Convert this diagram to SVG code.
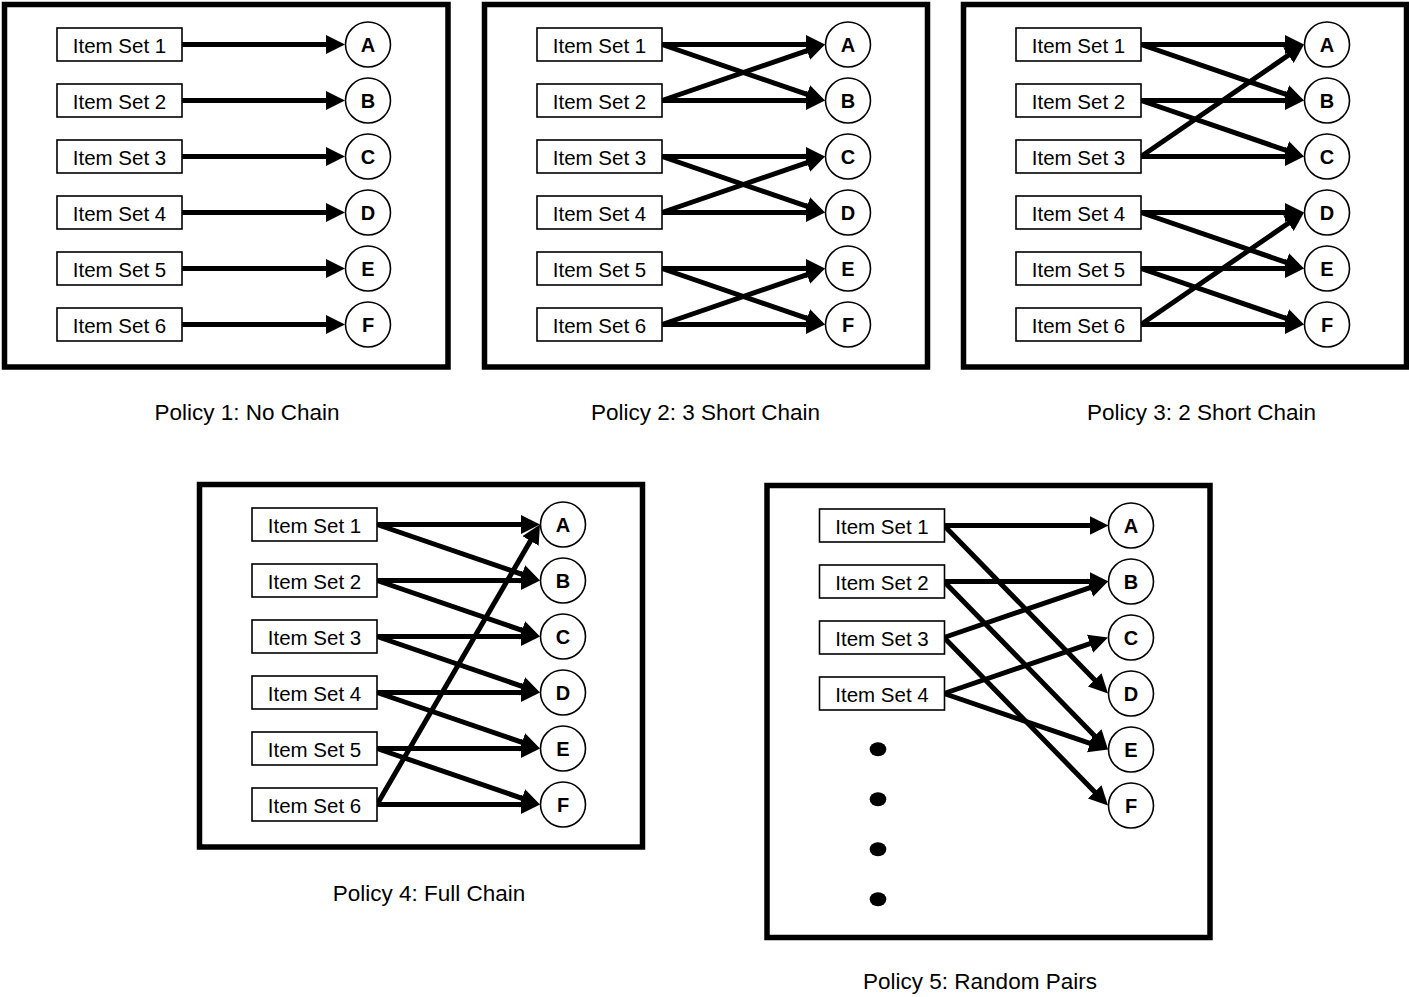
<svg xmlns="http://www.w3.org/2000/svg" width="1409" height="997" viewBox="0 0 1409 997">
<defs>
<style>
.frame{fill:none;stroke:#000;stroke-width:5.5}
.box{fill:#fff;stroke:#000;stroke-width:1.6}
.circ{fill:#fff;stroke:#000;stroke-width:1.6}
.lbl{font-family:"Liberation Sans",Arial,sans-serif;font-size:20.5px;fill:#000;text-anchor:middle}
.cl{font-family:"Liberation Sans",Arial,sans-serif;font-size:20px;font-weight:bold;fill:#000;text-anchor:middle}
.cap{font-family:"Liberation Sans",Arial,sans-serif;font-size:22.5px;fill:#000;text-anchor:middle}
.arr{fill:none;stroke:#000;stroke-width:5;marker-end:url(#ah)}
.dot{fill:#000}
</style>
<marker id="ah" markerUnits="userSpaceOnUse" markerWidth="20" markerHeight="20" refX="7" refY="9.5" orient="auto" viewBox="0 0 20 20">
<path d="M0,0 L19,9.5 L0,19 Z" fill="#000"/>
</marker>
</defs>
<rect width="1409" height="997" fill="#fff"/>

<!-- Policy 1 -->
<g id="policy1">
<rect class="frame" x="4.5" y="4.5" width="443.5" height="362.5"/>
<g id="p1-connectors">
<path class="arr" d="M182,44.5 L333,44.5"/>
<path class="arr" d="M182,100.5 L333,100.5"/>
<path class="arr" d="M182,156.5 L333,156.5"/>
<path class="arr" d="M182,212.5 L333,212.5"/>
<path class="arr" d="M182,268.5 L333,268.5"/>
<path class="arr" d="M182,324.5 L333,324.5"/>
</g>
<g id="p1-set1"><rect class="box" x="57" y="28" width="125" height="33"/><text class="lbl" x="119.5" y="52.5">Item Set 1</text></g>
<g id="p1-set2"><rect class="box" x="57" y="84" width="125" height="33"/><text class="lbl" x="119.5" y="108.5">Item Set 2</text></g>
<g id="p1-set3"><rect class="box" x="57" y="140" width="125" height="33"/><text class="lbl" x="119.5" y="164.5">Item Set 3</text></g>
<g id="p1-set4"><rect class="box" x="57" y="196" width="125" height="33"/><text class="lbl" x="119.5" y="220.5">Item Set 4</text></g>
<g id="p1-set5"><rect class="box" x="57" y="252" width="125" height="33"/><text class="lbl" x="119.5" y="276.5">Item Set 5</text></g>
<g id="p1-set6"><rect class="box" x="57" y="308" width="125" height="33"/><text class="lbl" x="119.5" y="332.5">Item Set 6</text></g>
<g id="p1-A"><circle class="circ" cx="368" cy="44.5" r="22.5"/><text class="cl" x="368" y="52">A</text></g>
<g id="p1-B"><circle class="circ" cx="368" cy="100.5" r="22.5"/><text class="cl" x="368" y="108">B</text></g>
<g id="p1-C"><circle class="circ" cx="368" cy="156.5" r="22.5"/><text class="cl" x="368" y="164">C</text></g>
<g id="p1-D"><circle class="circ" cx="368" cy="212.5" r="22.5"/><text class="cl" x="368" y="220">D</text></g>
<g id="p1-E"><circle class="circ" cx="368" cy="268.5" r="22.5"/><text class="cl" x="368" y="276">E</text></g>
<g id="p1-F"><circle class="circ" cx="368" cy="324.5" r="22.5"/><text class="cl" x="368" y="332">F</text></g>
</g>
<text class="cap" x="247" y="420">Policy 1: No Chain</text>

<!-- Policy 2 -->
<g id="policy2" transform="translate(480,0)">
<rect class="frame" x="4.5" y="4.5" width="443" height="362.5"/>
<g id="p2-connectors">
<path class="arr" d="M182,44.5 L333,44.5"/>
<path class="arr" d="M182,100.5 L333,100.5"/>
<path class="arr" d="M182,156.5 L333,156.5"/>
<path class="arr" d="M182,212.5 L333,212.5"/>
<path class="arr" d="M182,268.5 L333,268.5"/>
<path class="arr" d="M182,324.5 L333,324.5"/>
<path class="arr" d="M182,44.5 L333.65,96.6"/>
<path class="arr" d="M182,100.5 L333.65,48.4"/>
<path class="arr" d="M182,156.5 L333.65,208.6"/>
<path class="arr" d="M182,212.5 L333.65,160.4"/>
<path class="arr" d="M182,268.5 L333.65,320.6"/>
<path class="arr" d="M182,324.5 L333.65,272.4"/>
</g>
<g id="p2-set1"><rect class="box" x="57" y="28" width="125" height="33"/><text class="lbl" x="119.5" y="52.5">Item Set 1</text></g>
<g id="p2-set2"><rect class="box" x="57" y="84" width="125" height="33"/><text class="lbl" x="119.5" y="108.5">Item Set 2</text></g>
<g id="p2-set3"><rect class="box" x="57" y="140" width="125" height="33"/><text class="lbl" x="119.5" y="164.5">Item Set 3</text></g>
<g id="p2-set4"><rect class="box" x="57" y="196" width="125" height="33"/><text class="lbl" x="119.5" y="220.5">Item Set 4</text></g>
<g id="p2-set5"><rect class="box" x="57" y="252" width="125" height="33"/><text class="lbl" x="119.5" y="276.5">Item Set 5</text></g>
<g id="p2-set6"><rect class="box" x="57" y="308" width="125" height="33"/><text class="lbl" x="119.5" y="332.5">Item Set 6</text></g>
<g id="p2-A"><circle class="circ" cx="368" cy="44.5" r="22.5"/><text class="cl" x="368" y="52">A</text></g>
<g id="p2-B"><circle class="circ" cx="368" cy="100.5" r="22.5"/><text class="cl" x="368" y="108">B</text></g>
<g id="p2-C"><circle class="circ" cx="368" cy="156.5" r="22.5"/><text class="cl" x="368" y="164">C</text></g>
<g id="p2-D"><circle class="circ" cx="368" cy="212.5" r="22.5"/><text class="cl" x="368" y="220">D</text></g>
<g id="p2-E"><circle class="circ" cx="368" cy="268.5" r="22.5"/><text class="cl" x="368" y="276">E</text></g>
<g id="p2-F"><circle class="circ" cx="368" cy="324.5" r="22.5"/><text class="cl" x="368" y="332">F</text></g>
</g>
<text class="cap" x="705.5" y="420">Policy 2: 3 Short Chain</text>

<!-- Policy 3 -->
<g id="policy3" transform="translate(959,0)">
<rect class="frame" x="4.5" y="4.5" width="443" height="362.5"/>
<g id="p3-connectors">
<path class="arr" d="M182,44.5 L333,44.5"/>
<path class="arr" d="M182,100.5 L333,100.5"/>
<path class="arr" d="M182,156.5 L333,156.5"/>
<path class="arr" d="M182,212.5 L333,212.5"/>
<path class="arr" d="M182,268.5 L333,268.5"/>
<path class="arr" d="M182,324.5 L333,324.5"/>
<path class="arr" d="M182,44.5 L333.65,96.6"/>
<path class="arr" d="M182,100.5 L333.65,152.6"/>
<path class="arr" d="M182,156.5 L335.11,51.3"/>
<path class="arr" d="M182,212.5 L333.65,264.6"/>
<path class="arr" d="M182,268.5 L333.65,320.6"/>
<path class="arr" d="M182,324.5 L335.11,219.3"/>
</g>
<g id="p3-set1"><rect class="box" x="57" y="28" width="125" height="33"/><text class="lbl" x="119.5" y="52.5">Item Set 1</text></g>
<g id="p3-set2"><rect class="box" x="57" y="84" width="125" height="33"/><text class="lbl" x="119.5" y="108.5">Item Set 2</text></g>
<g id="p3-set3"><rect class="box" x="57" y="140" width="125" height="33"/><text class="lbl" x="119.5" y="164.5">Item Set 3</text></g>
<g id="p3-set4"><rect class="box" x="57" y="196" width="125" height="33"/><text class="lbl" x="119.5" y="220.5">Item Set 4</text></g>
<g id="p3-set5"><rect class="box" x="57" y="252" width="125" height="33"/><text class="lbl" x="119.5" y="276.5">Item Set 5</text></g>
<g id="p3-set6"><rect class="box" x="57" y="308" width="125" height="33"/><text class="lbl" x="119.5" y="332.5">Item Set 6</text></g>
<g id="p3-A"><circle class="circ" cx="368" cy="44.5" r="22.5"/><text class="cl" x="368" y="52">A</text></g>
<g id="p3-B"><circle class="circ" cx="368" cy="100.5" r="22.5"/><text class="cl" x="368" y="108">B</text></g>
<g id="p3-C"><circle class="circ" cx="368" cy="156.5" r="22.5"/><text class="cl" x="368" y="164">C</text></g>
<g id="p3-D"><circle class="circ" cx="368" cy="212.5" r="22.5"/><text class="cl" x="368" y="220">D</text></g>
<g id="p3-E"><circle class="circ" cx="368" cy="268.5" r="22.5"/><text class="cl" x="368" y="276">E</text></g>
<g id="p3-F"><circle class="circ" cx="368" cy="324.5" r="22.5"/><text class="cl" x="368" y="332">F</text></g>
</g>
<text class="cap" x="1201.5" y="420">Policy 3: 2 Short Chain</text>

<!-- Policy 4 -->
<g id="policy4" transform="translate(195,480)">
<rect class="frame" x="4.5" y="4.5" width="443" height="362.5"/>
<g id="p4-connectors">
<path class="arr" d="M182,44.5 L333,44.5"/>
<path class="arr" d="M182,100.5 L333,100.5"/>
<path class="arr" d="M182,156.5 L333,156.5"/>
<path class="arr" d="M182,212.5 L333,212.5"/>
<path class="arr" d="M182,268.5 L333,268.5"/>
<path class="arr" d="M182,324.5 L333,324.5"/>
<path class="arr" d="M182,44.5 L333.65,96.6"/>
<path class="arr" d="M182,100.5 L333.65,152.6"/>
<path class="arr" d="M182,156.5 L333.65,208.6"/>
<path class="arr" d="M182,212.5 L333.65,264.6"/>
<path class="arr" d="M182,268.5 L333.65,320.6"/>
<path class="arr" d="M182,324.5 L338.96,54.87"/>
</g>
<g id="p4-set1"><rect class="box" x="57" y="28" width="125" height="33"/><text class="lbl" x="119.5" y="52.5">Item Set 1</text></g>
<g id="p4-set2"><rect class="box" x="57" y="84" width="125" height="33"/><text class="lbl" x="119.5" y="108.5">Item Set 2</text></g>
<g id="p4-set3"><rect class="box" x="57" y="140" width="125" height="33"/><text class="lbl" x="119.5" y="164.5">Item Set 3</text></g>
<g id="p4-set4"><rect class="box" x="57" y="196" width="125" height="33"/><text class="lbl" x="119.5" y="220.5">Item Set 4</text></g>
<g id="p4-set5"><rect class="box" x="57" y="252" width="125" height="33"/><text class="lbl" x="119.5" y="276.5">Item Set 5</text></g>
<g id="p4-set6"><rect class="box" x="57" y="308" width="125" height="33"/><text class="lbl" x="119.5" y="332.5">Item Set 6</text></g>
<g id="p4-A"><circle class="circ" cx="368" cy="44.5" r="22.5"/><text class="cl" x="368" y="52">A</text></g>
<g id="p4-B"><circle class="circ" cx="368" cy="100.5" r="22.5"/><text class="cl" x="368" y="108">B</text></g>
<g id="p4-C"><circle class="circ" cx="368" cy="156.5" r="22.5"/><text class="cl" x="368" y="164">C</text></g>
<g id="p4-D"><circle class="circ" cx="368" cy="212.5" r="22.5"/><text class="cl" x="368" y="220">D</text></g>
<g id="p4-E"><circle class="circ" cx="368" cy="268.5" r="22.5"/><text class="cl" x="368" y="276">E</text></g>
<g id="p4-F"><circle class="circ" cx="368" cy="324.5" r="22.5"/><text class="cl" x="368" y="332">F</text></g>
</g>
<text class="cap" x="429" y="901">Policy 4: Full Chain</text>

<!-- Policy 5 -->
<g id="policy5">
<rect class="frame" x="767" y="485.5" width="443" height="452"/>
<g id="p5-connectors">
<path class="arr" d="M944,525.5 L1096.5,525.5"/>
<path class="arr" d="M944,525.5 L1099.62,684.91"/>
<path class="arr" d="M944,581.5 L1096.5,581.5"/>
<path class="arr" d="M944,581.5 L1099.62,740.91"/>
<path class="arr" d="M944,637.5 L1096.64,585.38"/>
<path class="arr" d="M944,637.5 L1099.62,796.91"/>
<path class="arr" d="M944,693.5 L1096.64,641.38"/>
<path class="arr" d="M944,693.5 L1096.64,745.62"/>
</g>
<g id="p5-set1"><rect class="box" x="819.5" y="509" width="125" height="33"/><text class="lbl" x="882" y="533.5">Item Set 1</text></g>
<g id="p5-set2"><rect class="box" x="819.5" y="565" width="125" height="33"/><text class="lbl" x="882" y="589.5">Item Set 2</text></g>
<g id="p5-set3"><rect class="box" x="819.5" y="621" width="125" height="33"/><text class="lbl" x="882" y="645.5">Item Set 3</text></g>
<g id="p5-set4"><rect class="box" x="819.5" y="677" width="125" height="33"/><text class="lbl" x="882" y="701.5">Item Set 4</text></g>
<g id="p5-dots">
<ellipse class="dot" cx="878" cy="749.3" rx="8.3" ry="7"/>
<ellipse class="dot" cx="878" cy="799.3" rx="8.3" ry="7"/>
<ellipse class="dot" cx="878" cy="849.3" rx="8.3" ry="7"/>
<ellipse class="dot" cx="878" cy="899.3" rx="8.3" ry="7"/>
</g>
<g id="p5-A"><circle class="circ" cx="1131" cy="525.5" r="22.5"/><text class="cl" x="1131" y="533">A</text></g>
<g id="p5-B"><circle class="circ" cx="1131" cy="581.5" r="22.5"/><text class="cl" x="1131" y="589">B</text></g>
<g id="p5-C"><circle class="circ" cx="1131" cy="637.5" r="22.5"/><text class="cl" x="1131" y="645">C</text></g>
<g id="p5-D"><circle class="circ" cx="1131" cy="693.5" r="22.5"/><text class="cl" x="1131" y="701">D</text></g>
<g id="p5-E"><circle class="circ" cx="1131" cy="749.5" r="22.5"/><text class="cl" x="1131" y="757">E</text></g>
<g id="p5-F"><circle class="circ" cx="1131" cy="805.5" r="22.5"/><text class="cl" x="1131" y="813">F</text></g>
</g>
<text class="cap" x="980" y="989">Policy 5: Random Pairs</text>
</svg>
